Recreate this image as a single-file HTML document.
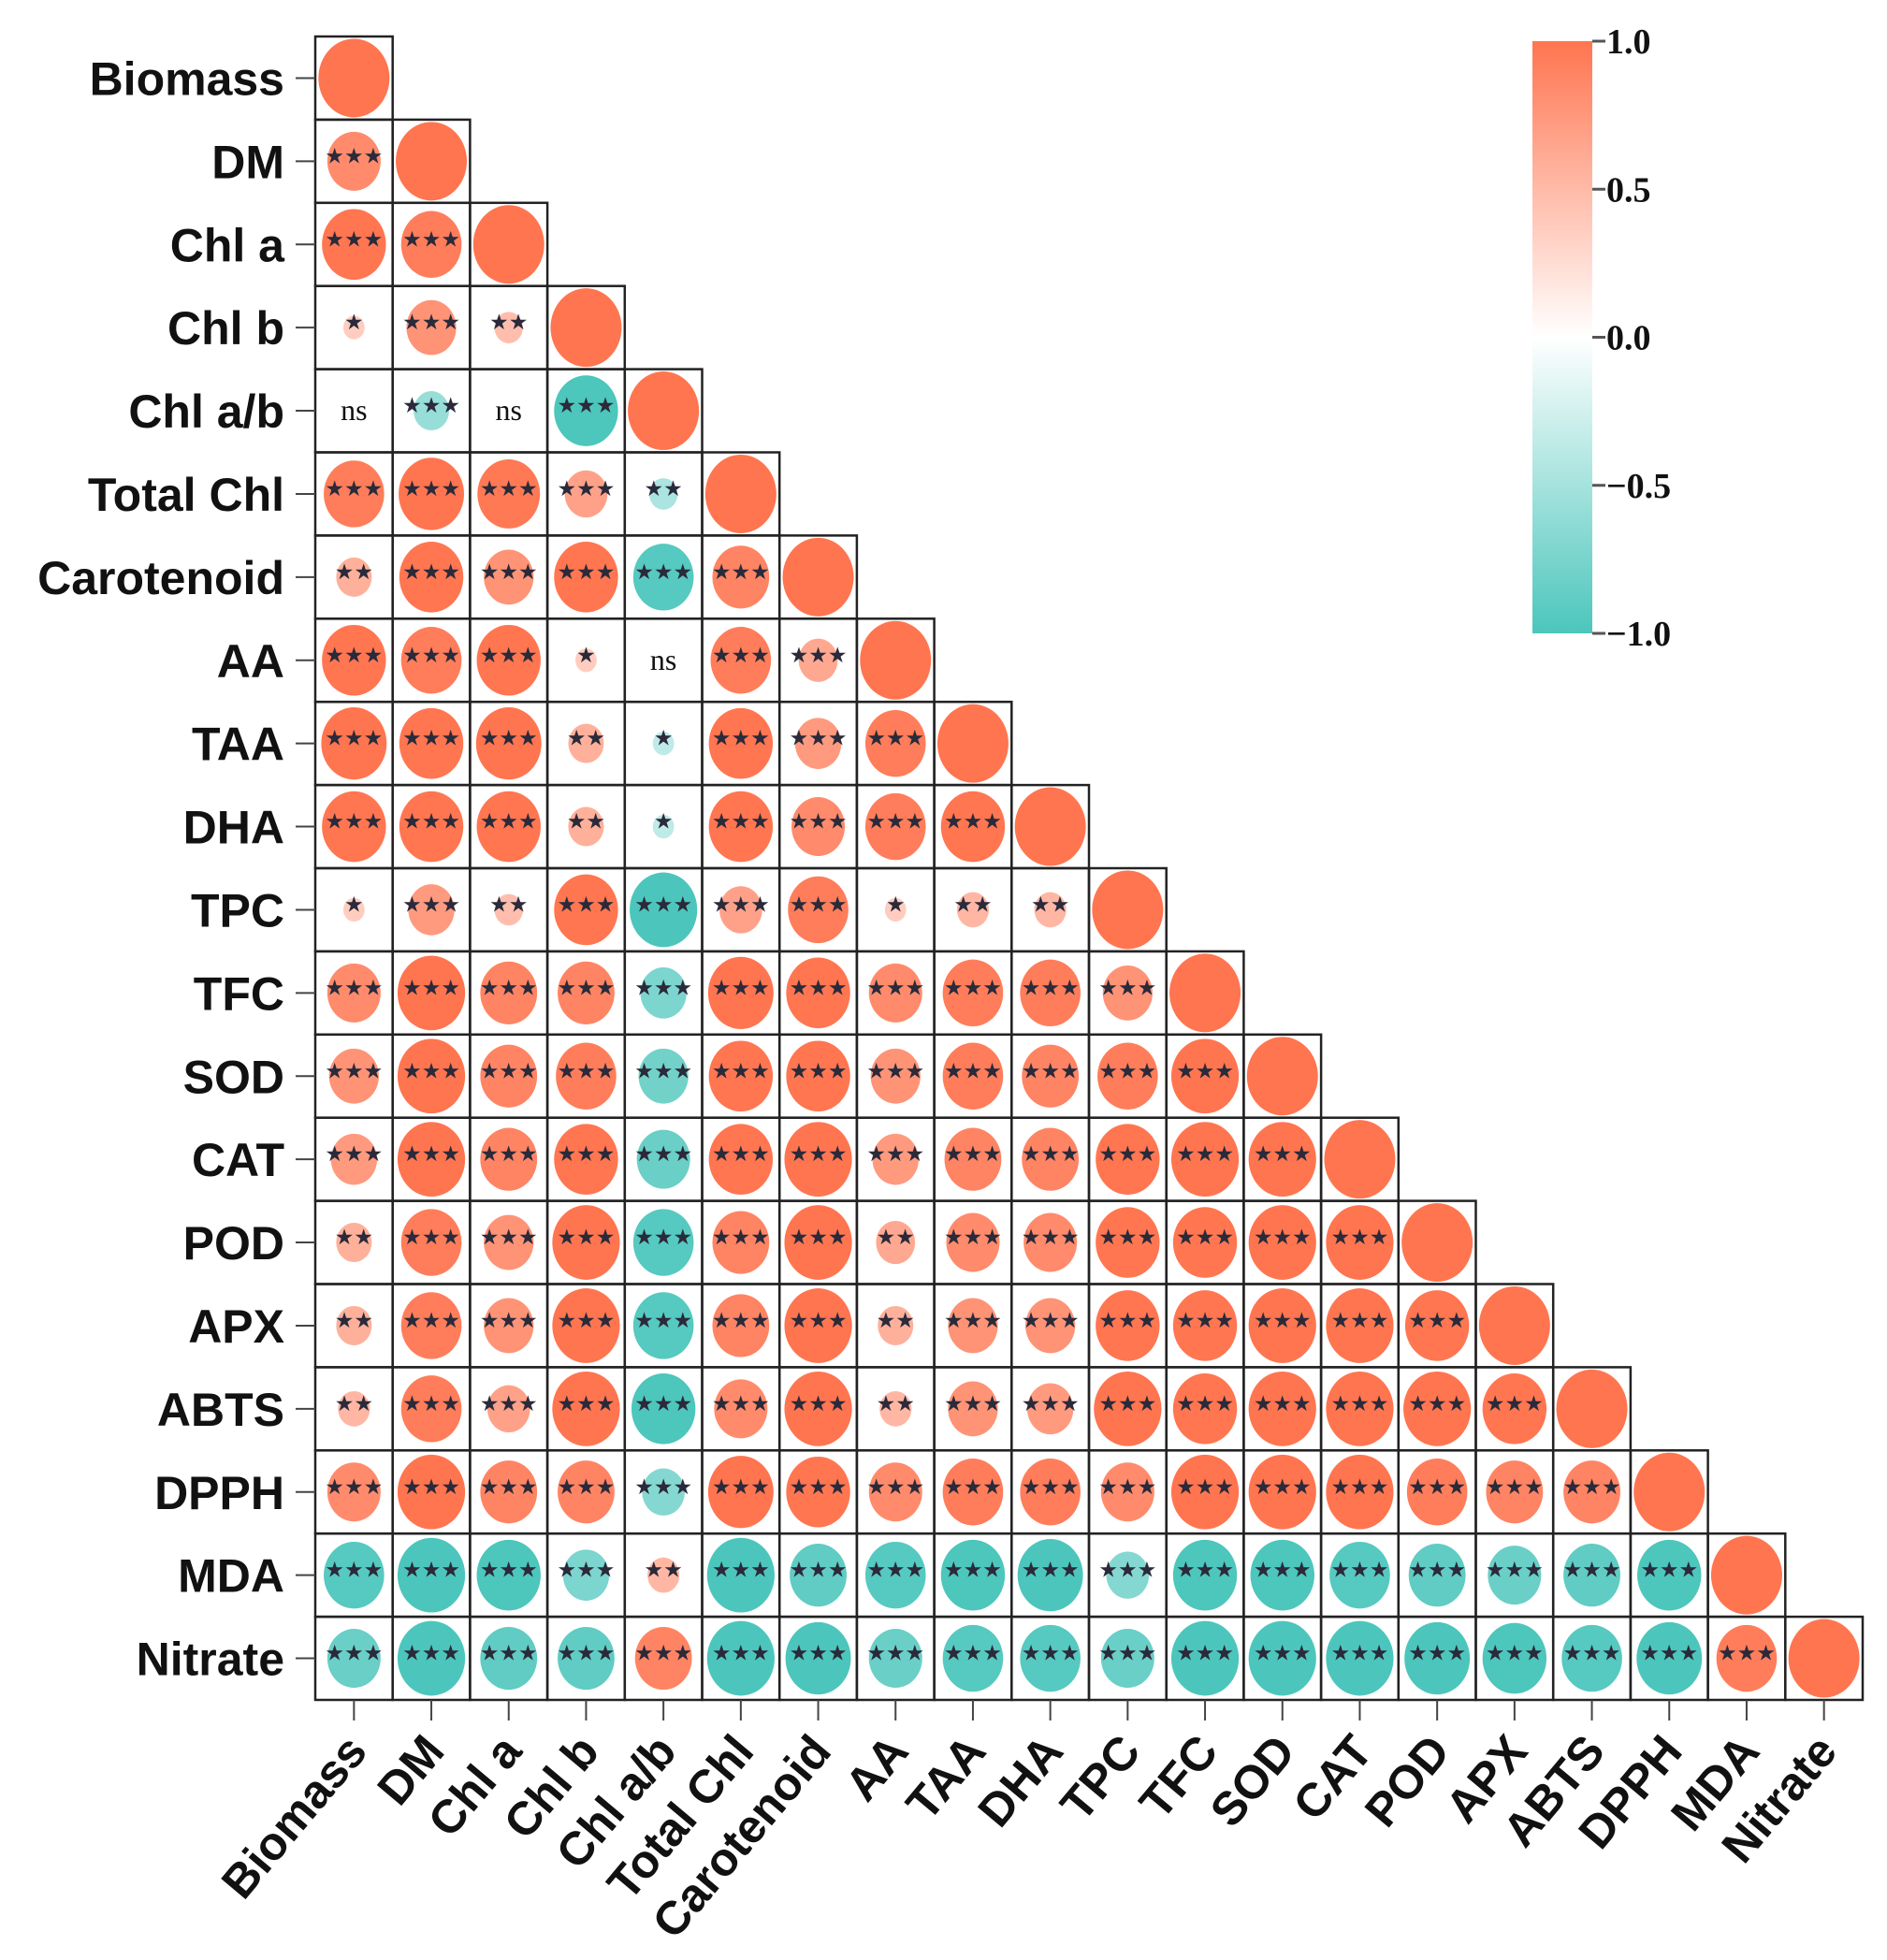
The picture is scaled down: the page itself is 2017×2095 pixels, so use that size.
<!DOCTYPE html>
<html><head><meta charset="utf-8">
<style>
html,body{margin:0;padding:0;background:#fff;}
svg{display:block;}
.rl{font-family:"Liberation Sans",sans-serif;font-weight:bold;font-size:50px;fill:#111;}
.cb{font-family:"Liberation Serif",serif;font-weight:bold;font-size:38px;fill:#111;}
.st{font-family:"DejaVu Sans",sans-serif;font-weight:bold;font-size:23px;fill:#2a2a3a;}
.ns{font-family:"Liberation Serif",serif;font-size:32px;fill:#111;}
</style></head>
<body>
<svg id="chart" width="2017" height="2095" viewBox="0 0 2017 2095" xmlns="http://www.w3.org/2000/svg">
<defs>
<linearGradient id="cbg" x1="0" y1="0" x2="0" y2="1">
<stop offset="0" stop-color="#ff7550"/>
<stop offset="0.5" stop-color="#ffffff"/>
<stop offset="1" stop-color="#4cc6bc"/>
</linearGradient>
</defs>
<g id="grid"></g>
<g id="rowlabels"></g>
<g id="collabels"></g>
<g id="colorbar">
<rect x="1638" y="44" width="64" height="633" fill="url(#cbg)"/>
</g>
</svg>
<script>
const variables = ["Biomass","DM","Chl a","Chl b","Chl a/b","Total Chl","Carotenoid","AA","TAA","DHA","TPC","TFC","SOD","CAT","POD","APX","ABTS","DPPH","MDA","Nitrate"];
const corr = [
[1],
[0.75,1],
[0.9,0.85,1],
[0.3,0.7,0.4,1],
[0.05,-0.5,0.05,-0.9,1],
[0.85,0.92,0.88,0.6,-0.4,1],
[0.5,0.9,0.7,0.9,-0.85,0.8,1],
[0.9,0.85,0.9,0.3,0.05,0.85,0.55,1],
[0.92,0.9,0.92,0.5,-0.3,0.9,0.65,0.85,1],
[0.9,0.9,0.9,0.5,-0.3,0.9,0.75,0.85,0.9,1],
[0.3,0.65,0.4,0.9,-0.95,0.6,0.85,0.3,0.45,0.45,1],
[0.75,0.95,0.8,0.8,-0.65,0.92,0.9,0.75,0.85,0.85,0.7,1],
[0.7,0.95,0.8,0.85,-0.7,0.9,0.9,0.7,0.85,0.8,0.85,0.95,1],
[0.65,0.95,0.8,0.9,-0.75,0.9,0.95,0.65,0.8,0.8,0.9,0.95,0.95,1],
[0.5,0.85,0.7,0.95,-0.85,0.8,0.95,0.55,0.75,0.75,0.9,0.9,0.95,0.95,1],
[0.5,0.85,0.7,0.95,-0.85,0.8,0.95,0.5,0.7,0.7,0.9,0.9,0.95,0.95,0.9,1],
[0.45,0.85,0.6,0.95,-0.9,0.75,0.95,0.45,0.7,0.65,0.95,0.9,0.95,0.95,0.95,0.9,1],
[0.75,0.95,0.8,0.8,-0.6,0.92,0.9,0.75,0.85,0.85,0.75,0.95,0.95,0.95,0.85,0.8,0.8,1],
[-0.85,-0.95,-0.9,-0.65,0.45,-0.95,-0.8,-0.85,-0.9,-0.92,-0.6,-0.9,-0.9,-0.85,-0.8,-0.75,-0.8,-0.9,1],
[-0.75,-0.95,-0.8,-0.8,0.8,-0.95,-0.92,-0.75,-0.85,-0.85,-0.75,-0.95,-0.95,-0.95,-0.92,-0.9,-0.85,-0.92,0.85,1]
];
const signif = [
[""],
["***",""],
["***","***",""],
["*","***","**",""],
["ns","***","ns","***",""],
["***","***","***","***","**",""],
["**","***","***","***","***","***",""],
["***","***","***","*","ns","***","***",""],
["***","***","***","**","*","***","***","***",""],
["***","***","***","**","*","***","***","***","***",""],
["*","***","**","***","***","***","***","*","**","**",""],
["***","***","***","***","***","***","***","***","***","***","***",""],
["***","***","***","***","***","***","***","***","***","***","***","***",""],
["***","***","***","***","***","***","***","***","***","***","***","***","***",""],
["**","***","***","***","***","***","***","**","***","***","***","***","***","***",""],
["**","***","***","***","***","***","***","**","***","***","***","***","***","***","***",""],
["**","***","***","***","***","***","***","**","***","***","***","***","***","***","***","***",""],
["***","***","***","***","***","***","***","***","***","***","***","***","***","***","***","***","***",""],
["***","***","***","***","**","***","***","***","***","***","***","***","***","***","***","***","***","***",""],
["***","***","***","***","***","***","***","***","***","***","***","***","***","***","***","***","***","***","***",""]
];
const cbTicks = [1.0, 0.5, 0.0, -0.5, -1.0];
const cbLabels = ["1.0","0.5","0.0","\u22120.5","\u22121.0"];

const NS = "http://www.w3.org/2000/svg";
const X0 = 337, Y0 = 39, CW = 82.7, CH = 88.9;
const xPos = i => X0 + i * CW;
const yPos = i => Y0 + i * CH;
const POS = [255,117,80], NEG = [76,198,188];
function color(r){
  const c = r >= 0 ? POS : NEG; const t = Math.min(1, Math.abs(r)*1.05 + 0.05);
  return "rgb(" + c.map(v => Math.round(255 + (v-255)*t)).join(",") + ")";
}
function mk(tag, attrs, parent){
  const e = document.createElementNS(NS, tag);
  for (const k in attrs) e.setAttribute(k, attrs[k]);
  parent.appendChild(e); return e;
}
const grid = document.getElementById("grid");
for (let i = 0; i < variables.length; i++){
  for (let j = 0; j <= i; j++){
    const g = mk("g", {}, grid);
    
    
    const rect = mk("rect", {x: xPos(j), y: yPos(i), width: CW, height: CH, fill: "none", stroke: "#222", "stroke-width": 2.5}, g);
    
    
    const r = corr[i][j];
    const cx = xPos(j) + CW/2, cy = yPos(i) + CH/2;
    const s = signif[i][j];
    if (s !== "ns"){
      const el = mk("ellipse", {cx: cx, cy: cy, rx: 38*Math.abs(r), ry: 42*Math.abs(r), fill: color(r)}, g);
      
      
    }
    if (s){
      const t = mk("text", {x: cx, y: s === "ns" ? cy + 10 : cy + 2, "text-anchor": "middle", class: s === "ns" ? "ns" : "st"}, g);
      t.textContent = s === "ns" ? "ns" : s.replace(/\*/g, "\u2605");
      
      
    }
  }
}
const rl = document.getElementById("rowlabels");
variables.forEach((v, i) => {
  const cy = yPos(i) + CH/2;
  const tk = mk("line", {x1: 316, x2: 337, y1: cy, y2: cy, stroke: "#444", "stroke-width": 2}, rl);
  
  
  const t = mk("text", {x: 304, y: cy + 18, "text-anchor": "end", class: "rl"}, rl);
  t.textContent = v;
  
  
});
const cl = document.getElementById("collabels");
const yB = yPos(variables.length);
variables.forEach((v, j) => {
  const cx = xPos(j) + CW/2;
  const tk = mk("line", {x1: cx, x2: cx, y1: yB, y2: yB + 22, stroke: "#444", "stroke-width": 2}, cl);
  
  
  const tx = cx + 16, ty = yB + 56;
  const t = mk("text", {x: tx, y: ty, "text-anchor": "end", class: "rl", transform: "rotate(-50 " + tx + " " + ty + ")"}, cl);
  t.textContent = v;
  
  
});
const cb = document.getElementById("colorbar");
const cbY = v => 44 + (1 - v) / 2 * 633;
cbTicks.forEach((v, k) => {
  const y = cbY(v);
  const tk = mk("line", {x1: 1702, x2: 1716, y1: y, y2: y, stroke: "#555", "stroke-width": 3}, cb);
  
  
  const t = mk("text", {x: 1717, y: y + 13, class: "cb"}, cb);
  t.textContent = cbLabels[k];
  
  
});
</script>
</body></html>
